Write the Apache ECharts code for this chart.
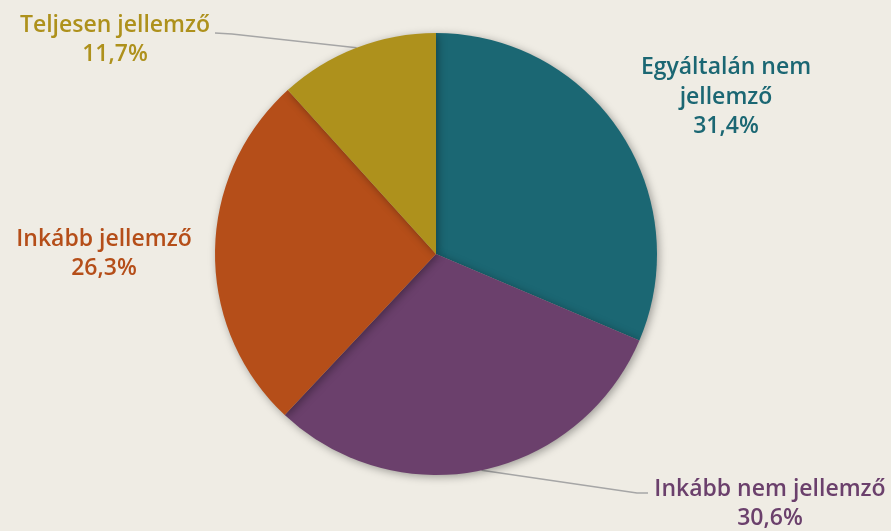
<!DOCTYPE html>
<html><head><meta charset="utf-8">
<script src="https://cdn.jsdelivr.net/npm/echarts@6/dist/echarts.min.js"></script>
<style>html,body{margin:0;padding:0;background:#EFECE4;}#c{width:891px;height:531px;}</style>
</head><body><div id="c"></div>
<script>
const categories = ['Egyáltalán nem jellemző', 'Inkább nem jellemző', 'Inkább jellemző', 'Teljesen jellemző'];
const values = [31.4, 30.6, 26.3, 11.7];
const labelTexts = ['Egyáltalán nem\njellemző\n31,4%', 'Inkább nem jellemző\n30,6%', 'Inkább jellemző\n26,3%', 'Teljesen jellemző\n11,7%'];
const colors = ['#1B6773', '#6B406C', '#B54E19', '#AE911C'];
const labelPos = [[726, 97], [770, 504], [104, 254], [115, 40]];
const showLine = [false, true, false, true];
// elbow and end of leader lines (annotation geometry)
const leaderEnds = [null, [[637, 493], [648, 493]], null, [[232, 34], [215, 33]]];

const chart = echarts.init(document.getElementById('c'));
chart.setOption({
  backgroundColor: '#EFECE4',
  animation: false,
  series: [{
    type: 'pie',
    center: [436, 254],
    radius: [0, 221],
    startAngle: 90,
    clockwise: true,
    data: categories.map((n, i) => ({
      name: n, value: values[i],
      itemStyle: { color: colors[i] },
      label: { color: colors[i], formatter: labelTexts[i] },
      labelLine: { show: showLine[i] }
    })),
    itemStyle: { shadowBlur: 8, shadowColor: 'rgba(0,0,0,0.35)', shadowOffsetX: 2, shadowOffsetY: 2 },
    label: {
      show: true, position: 'outside',
      fontFamily: 'Open Sans', fontWeight: 600, fontSize: 23, lineHeight: 29.5, align: 'center'
    },
    labelLine: { show: true, lineStyle: { color: '#A6A6A6', width: 1.5 }, length: 10, length2: 10 },
    labelLayout: function (p) {
      const i = p.dataIndex;
      const pos = labelPos[i];
      const out = { x: pos[0], y: pos[1], align: 'center', verticalAlign: 'middle' };
      if (leaderEnds[i] && p.labelLinePoints) {
        out.labelLinePoints = [p.labelLinePoints[0], leaderEnds[i][0], leaderEnds[i][1]];
      }
      return out;
    }
  }]
});
</script></body></html>
